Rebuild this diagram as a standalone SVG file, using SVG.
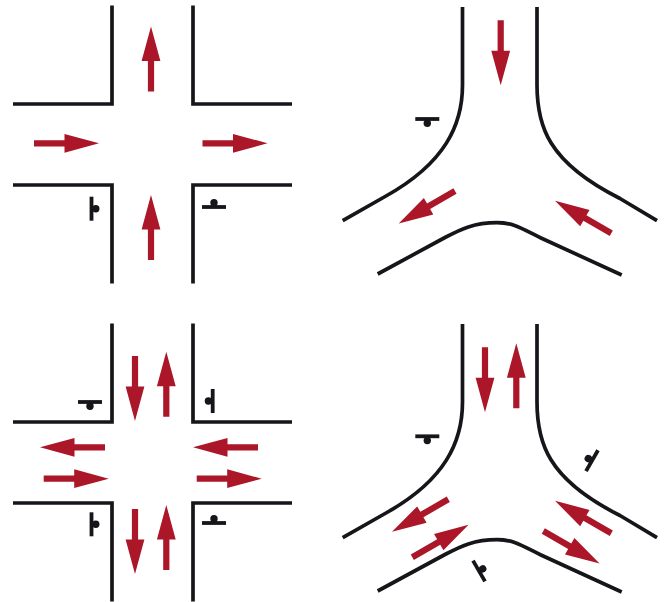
<svg xmlns="http://www.w3.org/2000/svg" xmlns:xlink="http://www.w3.org/1999/xlink" width="672" height="602" viewBox="0 0 672 602">
<style>
.road{fill:none;stroke:#15151a;stroke-width:3.7;stroke-linejoin:miter;stroke-linecap:butt}
.arrow{fill:#ab1628}
.bar{fill:none;stroke:#15151a;stroke-width:3.8}
.dot{fill:#15151a}
</style>
<defs>
<path id="arrow" class="arrow" d="M0,-3.100 H30.500 V-9.400 L65,0 L30.500,9.400 V3.100 H0 Z"/>
<g id="sign"><path class="bar" d="M-12,0 H12"/><circle class="dot" cx="0" cy="-4.300" r="3.700"/></g>
<g id="cross">
<path class="road" d="M112,0 V98.500 H13"/>
<path class="road" d="M193,0 V98.500 H292"/>
<path class="road" d="M13,179.500 H112 V278"/>
<path class="road" d="M292,179.500 H193 V278"/>
</g>
<g id="wye">
<path class="road" d="M462.500,7 V85 C462.500,125 445,163 386,196 L342.700,220.700"/>
<path class="road" d="M537,7 V85 C537,125 547,162 620,198.500 L657,220.700"/>
<path class="road" d="M377.700,274 L445,237.500 C461,229 474,222.700 497,222.700 C513,222.700 520,227.500 541,238 L621.700,275"/>
</g>
</defs>
<rect width="672" height="602" fill="#fff"/>
<g id="panel-top-left">
<use href="#cross" y="5.500"/>
<use href="#arrow" transform="translate(151,91.500) rotate(-90)"/>
<use href="#arrow" transform="translate(34,143.300)"/>
<use href="#arrow" transform="translate(202.500,143.300)"/>
<use href="#arrow" transform="translate(151,260) rotate(-90)"/>
<use href="#sign" transform="translate(91.500,208.700) rotate(90)"/>
<use href="#sign" transform="translate(214,207)"/>
</g>
<g id="panel-top-right">
<use href="#wye"/>
<use href="#arrow" transform="translate(500.700,20.300) rotate(90)"/>
<use href="#arrow" transform="translate(455,191) rotate(150)"/>
<use href="#arrow" transform="translate(611.300,233.300) rotate(210)"/>
<use href="#sign" transform="translate(427.300,119) rotate(180)"/>
</g>
<g id="panel-bottom-left">
<use href="#cross" y="323.500"/>
<use href="#arrow" transform="translate(135,356) rotate(90)"/>
<use href="#arrow" transform="translate(166.300,416.700) rotate(-90)"/>
<use href="#arrow" transform="translate(105,447.300) rotate(180)"/>
<use href="#arrow" transform="translate(258,447.300) rotate(180)"/>
<use href="#arrow" transform="translate(43.700,478.700)"/>
<use href="#arrow" transform="translate(196.700,478.700)"/>
<use href="#arrow" transform="translate(135,509) rotate(90)"/>
<use href="#arrow" transform="translate(166.300,570) rotate(-90)"/>
<use href="#sign" transform="translate(90,402) rotate(180)"/>
<use href="#sign" transform="translate(212.700,401) rotate(-90)"/>
<use href="#sign" transform="translate(91.500,524.300) rotate(90)"/>
<use href="#sign" transform="translate(214,523)"/>
</g>
<g id="panel-bottom-right">
<use href="#wye" y="317"/>
<use href="#arrow" transform="translate(485,347.300) rotate(90)"/>
<use href="#arrow" transform="translate(516.300,408.300) rotate(-90)"/>
<use href="#arrow" transform="translate(448.300,499.300) rotate(150)"/>
<use href="#arrow" transform="translate(412.300,557.300) rotate(-30)"/>
<use href="#arrow" transform="translate(611.300,533.300) rotate(210)"/>
<use href="#arrow" transform="translate(543.300,531) rotate(30)"/>
<use href="#sign" transform="translate(427.300,436.300) rotate(180)"/>
<use href="#sign" transform="translate(592,460.700) rotate(-60)"/>
<use href="#sign" transform="translate(479,571) rotate(60)"/>
</g>
</svg>
